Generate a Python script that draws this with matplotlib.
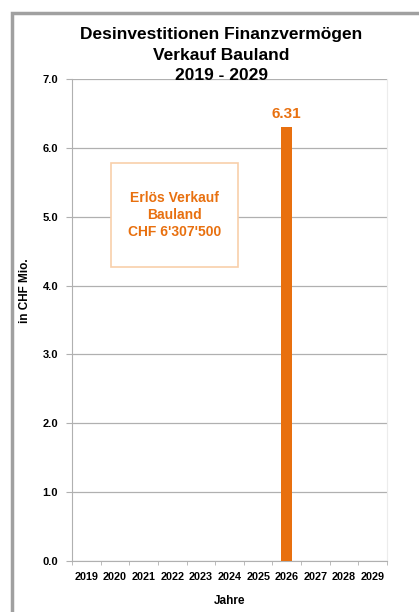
import matplotlib.pyplot as plt
from matplotlib.patches import Rectangle
import numpy as np

plt.rcParams['font.family'] = ['Liberation Sans', 'DejaVu Sans']

jahre = ['2019', '2020', '2021', '2022', '2023', '2024', '2025', '2026', '2027', '2028', '2029']
werte = [0, 0, 0, 0, 0, 0, 0, 6.31, 0, 0, 0]
y_ticks = [0.0, 1.0, 2.0, 3.0, 4.0, 5.0, 6.0, 7.0]

orange = '#e8700f'
grau = '#b0b0b0'

fig = plt.figure(figsize=(4.19, 6.12), dpi=100)
# outer frame
fig.patches.append(Rectangle((12/419, -0.01), 1.0, 1 - 13/612 + 0.01, transform=fig.transFigure,
                             fill=False, edgecolor='#a0a0a0', linewidth=2.5))

ax = fig.add_axes([72/419, 1 - 561/612, (387-72)/419, (561-79)/612])
x = np.arange(len(jahre))
bars = ax.bar(x, werte, width=0.38, color=orange, zorder=3)
for xi, v in zip(x, werte):
    if v > 0:
        ax.text(xi, v + 0.08, f'{v:.2f}', ha='center', va='bottom', color=orange,
                fontsize=11, fontweight='bold')

ax.set_xlim(-0.5, len(jahre) - 0.5)
ax.set_ylim(0, 7)
ax.set_yticks(y_ticks)
ax.set_yticklabels([f'{t:.1f}' for t in y_ticks], fontsize=8, fontweight='bold')
ax.set_xticks(x)
ax.set_xticklabels(jahre, fontsize=7.8, fontweight='bold')
ax.set_xticks(np.arange(-0.5, len(jahre)), minor=True)
ax.tick_params(axis='x', which='major', length=0, pad=8)
ax.tick_params(axis='x', which='minor', length=3, color=grau)
ax.tick_params(axis='y', length=4, color=grau, pad=6)
ax.grid(axis='y', color=grau, linewidth=0.9, zorder=0)
ax.spines['top'].set_visible(False)
ax.spines['right'].set_color('#ececec')
for s in ['left', 'bottom']:
    ax.spines[s].set_color(grau)

ax.set_xlabel('Jahre', fontsize=8.5, fontweight='bold', labelpad=9)
fig.text(25/419, 1 - 291/612, 'in CHF Mio.', rotation=90, ha='center', va='center',
         fontsize=8.5, fontweight='bold')

fig.text(0.528, 1 - 55/612, 'Desinvestitionen Finanzvermögen\nVerkauf Bauland\n2019 - 2029',
         ha='center', va='center', fontsize=12.5, fontweight='bold', linespacing=1.45)

# annotation box
box = Rectangle((111/419, 1 - 267/612), (238-111)/419, (267-163)/612, transform=fig.transFigure,
                facecolor='white', edgecolor='#f8cfaa', linewidth=1.2, zorder=5)
fig.patches.append(box)
fig.text((111+238)/2/419, 1 - 215/612, "Erlös Verkauf\nBauland\nCHF 6'307'500",
         ha='center', va='center', color=orange, fontsize=10, fontweight='bold',
         linespacing=1.3, zorder=6)

fig.savefig('out.png', dpi=100)
